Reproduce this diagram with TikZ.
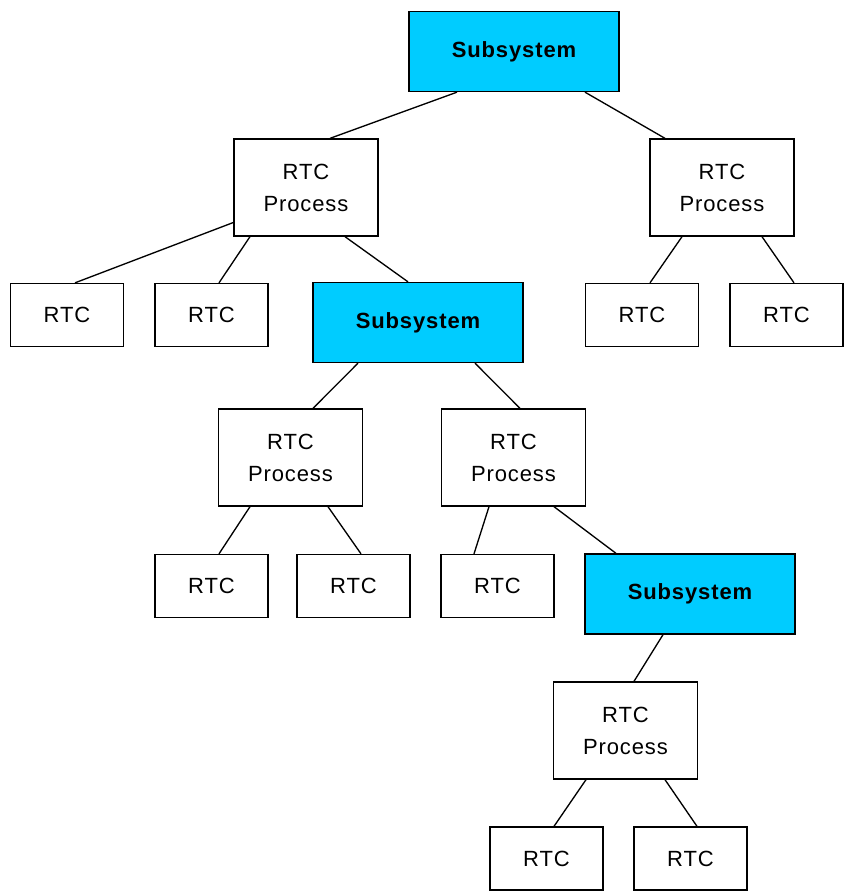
\documentclass[tikz,border=0pt]{standalone}
\usepackage{fontspec}
\setmainfont[LetterSpace=4]{Liberation Sans}
\definecolor{subcyan}{HTML}{00CCFF}
\begin{document}
\begin{tikzpicture}[x=0.75pt,y=-0.75pt,
  box/.style={draw=black,line width=1pt,inner sep=0pt,align=center,font=\fontsize{16.5}{24}\selectfont},
  rtc/.style={box,minimum width=84.75pt,minimum height=47.25pt},
  proc/.style={box,minimum width=108pt,minimum height=72.75pt},
  sub/.style={box,fill=subcyan,minimum width=157.5pt,minimum height=60pt,font=\fontsize{16.5}{24}\selectfont\bfseries},
  link/.style={draw=black,line width=1pt}]
\useasboundingbox (0,0) rectangle (848,896);
\node[sub]  (S1) at (514,51.5) {Subsystem};
\node[proc] (P1) at (306,187.5) {RTC\\Process};
\node[proc] (P2) at (722,187.5) {RTC\\Process};
\node[rtc]  (R1) at (67,315) {RTC};
\node[rtc]  (R2) at (211.5,315) {RTC};
\node[sub]  (S2) at (418,322.5) {Subsystem};
\node[rtc]  (R3) at (642,315) {RTC};
\node[rtc]  (R4) at (786.5,315) {RTC};
\node[proc] (P3) at (290.5,457.5) {RTC\\Process};
\node[proc] (P4) at (513.5,457.5) {RTC\\Process};
\node[rtc]  (R5) at (211.5,586) {RTC};
\node[rtc]  (R6) at (353.5,586) {RTC};
\node[rtc]  (R7) at (497.5,586) {RTC};
\node[sub]  (S3) at (690,594) {Subsystem};
\node[proc] (P5) at (625.5,730.5) {RTC\\Process};
\node[rtc]  (R8) at (546.5,858.5) {RTC};
\node[rtc]  (R9) at (690.5,858.5) {RTC};
% connectors (shifts in px -> pt)
\draw[link] ([xshift=-42.75pt]S1.south) -- ([xshift=18pt]P1.north);
\draw[link] ([xshift=53.25pt]S1.south) -- ([xshift=-42.75pt]P2.north);
\draw[link] ([yshift=-26.25pt]P1.west) -- ([xshift=6pt]R1.north);
\draw[link] ([xshift=-42pt]P1.south) -- ([xshift=5.625pt]R2.north);
\draw[link] ([xshift=29.25pt]P1.south) -- ([xshift=-7.5pt]S2.north);
\draw[link] ([xshift=-30pt]P2.south) -- ([xshift=6pt]R3.north);
\draw[link] ([xshift=30pt]P2.south) -- ([xshift=5.625pt]R4.north);
\draw[link] ([xshift=-45pt]S2.south) -- ([xshift=16.875pt]P3.north);
\draw[link] ([xshift=42.75pt]S2.south) -- ([xshift=4.875pt]P4.north);
\draw[link] ([xshift=-30.375pt]P3.south) -- ([xshift=5.625pt]R5.north);
\draw[link] ([xshift=28.125pt]P3.south) -- ([xshift=5.625pt]R6.north);
\draw[link] ([xshift=-18.375pt]P4.south) -- ([xshift=-17.625pt]R7.north);
\draw[link] ([xshift=30.375pt]P4.south) -- ([xshift=-55.5pt]S3.north);
\draw[link] ([xshift=-20.25pt]S3.south) -- ([xshift=6.375pt]P5.north);
\draw[link] ([xshift=-29.625pt]P5.south) -- ([xshift=5.625pt]R8.north);
\draw[link] ([xshift=29.625pt]P5.south) -- ([xshift=4.875pt]R9.north);
\end{tikzpicture}
\end{document}
